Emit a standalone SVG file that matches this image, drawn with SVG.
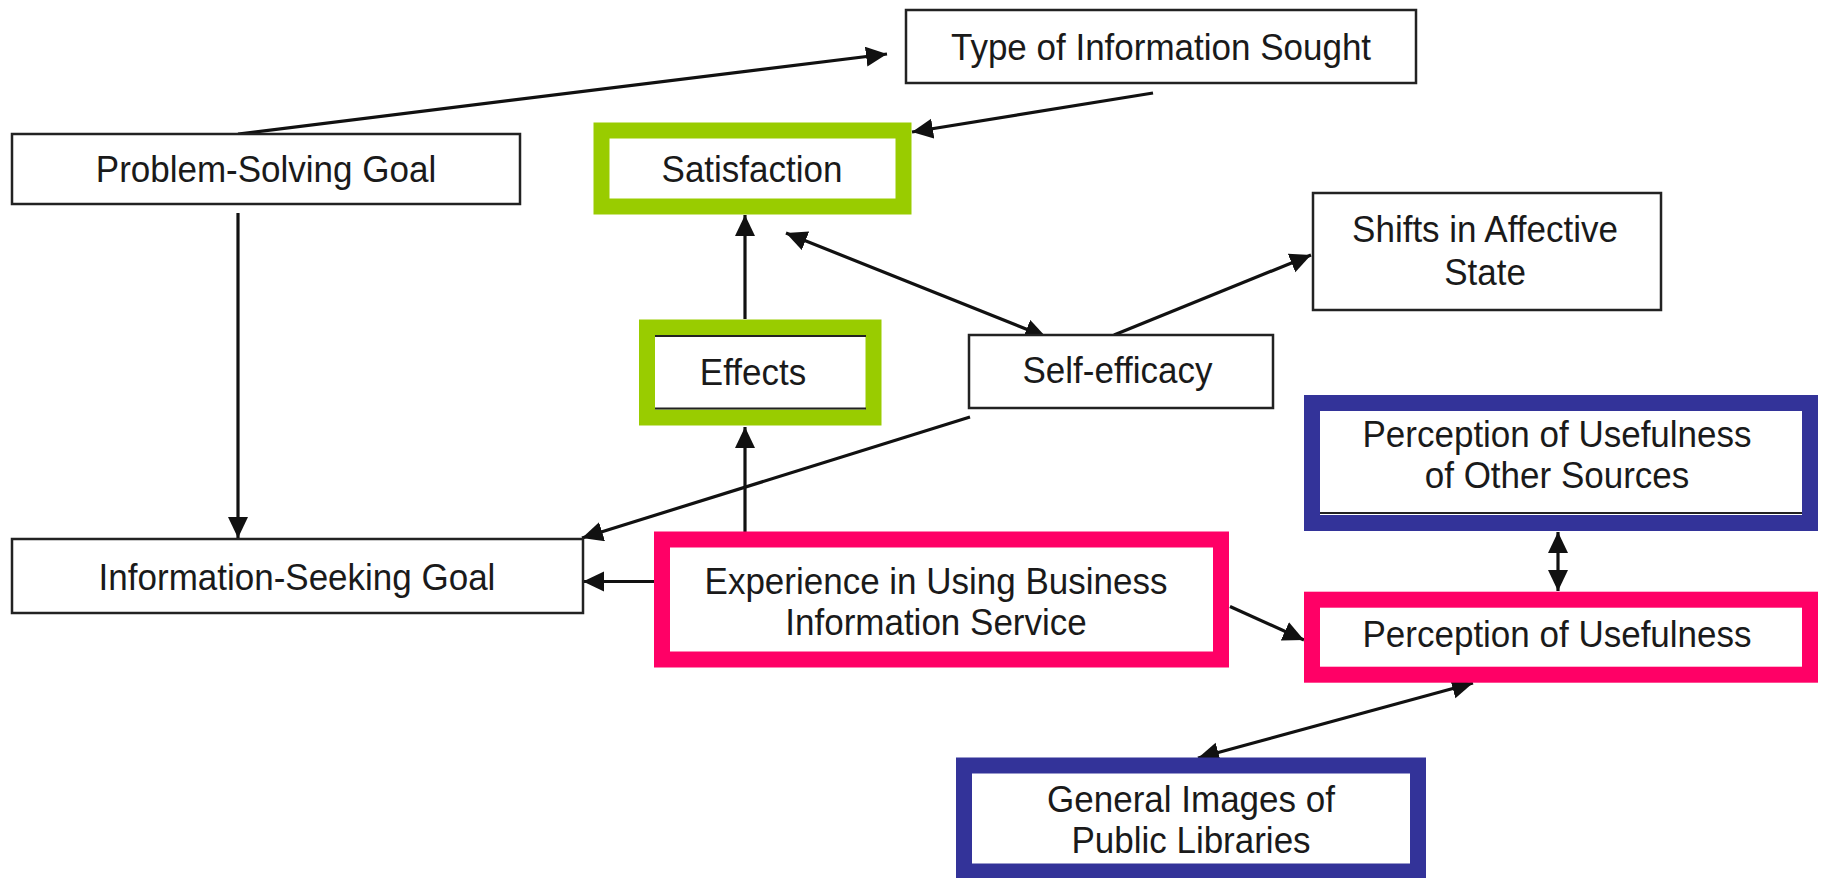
<svg xmlns="http://www.w3.org/2000/svg" width="1821" height="878" viewBox="0 0 1821 878">
  <defs>
    <style>
      .box { fill: #ffffff; stroke: #222222; stroke-width: 2.5; }
      .green { fill: #ffffff; stroke: #99cc00; stroke-width: 16; }
      .pink { fill: #ffffff; stroke: #ff0066; stroke-width: 16; }
      .blue { fill: #ffffff; stroke: #333399; stroke-width: 16; }
      .edge { stroke: #222222; stroke-width: 2; }
      .label { font-family: "Liberation Sans", Arial, sans-serif; font-size: 35px; fill: #1a1a1a; text-anchor: middle; }
      .conn { fill: none; stroke: #111111; stroke-width: 3.2; marker-end: url(#arrow); }
      .conn2 { fill: none; stroke: #111111; stroke-width: 3.2; marker-start: url(#arrow); marker-end: url(#arrow); }
    </style>
    <marker id="arrow" markerUnits="userSpaceOnUse" markerWidth="24" markerHeight="22" refX="21" refY="10" orient="auto-start-reverse">
      <path d="M0,0 L21,10 L0,20 z" fill="#111111"/>
    </marker>
  </defs>

  <rect width="1821" height="878" fill="#ffffff"/>

  <!-- connectors -->
  <g id="connectors">
    <line class="conn" x1="238" y1="134" x2="887" y2="54"/>
    <line class="conn" x1="1153" y1="93" x2="912" y2="132"/>
    <line class="conn" x1="238" y1="213" x2="238" y2="538"/>
    <line class="conn" x1="745" y1="319" x2="745" y2="215"/>
    <line class="conn2" x1="786" y1="233" x2="1046" y2="337"/>
    <line class="conn" x1="1114" y1="335" x2="1311" y2="255"/>
    <line class="conn" x1="970" y1="417" x2="582" y2="538"/>
    <line class="conn" x1="745" y1="532" x2="745" y2="427"/>
    <line class="conn" x1="654" y1="581.5" x2="583" y2="581.5"/>
    <line class="conn" x1="1230" y1="606.5" x2="1304" y2="640"/>
    <line class="conn2" x1="1558" y1="532" x2="1558" y2="591"/>
    <line class="conn2" x1="1473" y1="683" x2="1198" y2="758"/>
  </g>

  <!-- labels are stretched slightly taller than the stock font -->
  <g id="type-of-information-sought">
    <rect class="box" x="906" y="10" width="510" height="73"/>
    <text class="label" transform="translate(1161,60) scale(1,1.07)">Type of Information Sought</text>
  </g>

  <g id="problem-solving-goal">
    <rect class="box" x="12" y="134" width="508" height="70"/>
    <text class="label" transform="translate(266,182) scale(1,1.07)">Problem-Solving Goal</text>
  </g>

  <g id="satisfaction">
    <rect class="green" x="601.5" y="130.5" width="302" height="76" stroke-width="15"/>
    <text class="label" transform="translate(752,182) scale(1,1.07)">Satisfaction</text>
  </g>

  <g id="effects">
    <rect class="green" x="647" y="327.5" width="226.5" height="90"/>
    <line class="edge" x1="655" y1="336" x2="866" y2="336"/>
    <line class="edge" x1="655" y1="408.5" x2="866" y2="408.5"/>
    <text class="label" transform="translate(753,385) scale(1,1.07)">Effects</text>
  </g>

  <g id="self-efficacy">
    <rect class="box" x="969" y="335" width="304" height="73"/>
    <text class="label" transform="translate(1117.5,383) scale(1,1.07)">Self-efficacy</text>
  </g>

  <g id="shifts-in-affective-state">
    <rect class="box" x="1313" y="193" width="348" height="117"/>
    <text class="label" transform="translate(1485,242) scale(1,1.07)">Shifts in Affective</text>
    <text class="label" transform="translate(1485,285) scale(1,1.07)">State</text>
  </g>

  <g id="information-seeking-goal">
    <rect class="box" x="12" y="539" width="571" height="74"/>
    <text class="label" transform="translate(297,589.5) scale(1,1.07)">Information-Seeking Goal</text>
  </g>

  <g id="experience">
    <rect class="pink" x="662" y="539.5" width="559" height="120"/>
    <text class="label" transform="translate(936,593.5) scale(1,1.07)">Experience in Using Business</text>
    <text class="label" transform="translate(936,635) scale(1,1.07)">Information Service</text>
  </g>

  <g id="perception-other-sources">
    <rect class="blue" x="1312" y="403" width="498" height="120"/>
    <line class="edge" x1="1320" y1="513" x2="1802" y2="513"/>
    <text class="label" transform="translate(1557,447) scale(1,1.07)">Perception of Usefulness</text>
    <text class="label" transform="translate(1557,488) scale(1,1.07)">of Other Sources</text>
  </g>

  <g id="perception-of-usefulness">
    <rect class="pink" x="1312" y="599.7" width="498" height="75"/>
    <text class="label" transform="translate(1557,647) scale(1,1.07)">Perception of Usefulness</text>
  </g>

  <g id="general-images">
    <rect class="blue" x="964" y="765.5" width="454" height="106"/>
    <text class="label" transform="translate(1191,812) scale(1,1.07)">General Images of</text>
    <text class="label" transform="translate(1191,853) scale(1,1.07)">Public Libraries</text>
  </g>
</svg>
